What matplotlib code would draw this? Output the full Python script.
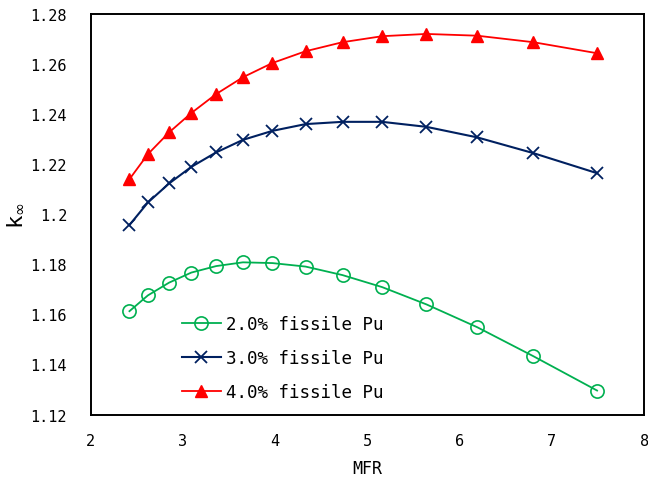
import matplotlib.pyplot as plt

plt.rcParams['font.family'] = ['DejaVu Sans Mono', 'DejaVu Sans']
plt.rcParams['mathtext.fontset'] = 'dejavusans'

# moderator-to-fuel ratio and k-infinity for each fissile Pu content
mfr = [2.42, 2.62, 2.85, 3.09, 3.36, 3.65, 3.97, 4.33, 4.73, 5.16, 5.64, 6.19, 6.80, 7.49]
k_2pct = [1.1613, 1.1676, 1.1727, 1.1767, 1.1793, 1.1808, 1.1805, 1.1791, 1.1757,
          1.1709, 1.1640, 1.1549, 1.1433, 1.1296]
k_3pct = [1.1957, 1.2047, 1.2123, 1.2189, 1.2247, 1.2297, 1.2333, 1.2360, 1.2369,
          1.2369, 1.2349, 1.2307, 1.2244, 1.2164]
k_4pct = [1.2140, 1.2240, 1.2327, 1.2404, 1.2480, 1.2547, 1.2604, 1.2651, 1.2687,
          1.2711, 1.2720, 1.2713, 1.2687, 1.2643]

xticks = [2, 3, 4, 5, 6, 7, 8]
yticks = [1.12, 1.14, 1.16, 1.18, 1.20, 1.22, 1.24, 1.26, 1.28]
ytick_labels = ['1.12', '1.14', '1.16', '1.18', '1.2', '1.22', '1.24', '1.26', '1.28']

fig = plt.figure(figsize=(6.48, 4.81), dpi=100)
ax = fig.add_axes([0.140, 0.136, 0.854, 0.833])

ax.plot(mfr, k_2pct, color='#00B050', lw=1.3, marker='o', ms=9.5,
        mfc='none', mec='#00B050', mew=1.2, label='2.0% fissile Pu')
ax.plot(mfr, k_3pct, color='#002060', lw=1.5, marker='x', ms=9,
        mew=1.3, label='3.0% fissile Pu')
ax.plot(mfr, k_4pct, color='#FF0000', lw=1.3, marker='^', ms=9,
        label='4.0% fissile Pu')

ax.set_xlim(2, 8)
ax.set_ylim(1.12, 1.28)
ax.set_xticks(xticks)
ax.set_xticklabels([str(t) for t in xticks])
ax.set_yticks(yticks)
ax.set_yticklabels(ytick_labels)
ax.tick_params(length=0, labelsize=11)
ax.tick_params(axis='x', pad=13)
ax.tick_params(axis='y', pad=17)
for s in ax.spines.values():
    s.set_linewidth(1.4)

ax.set_xlabel('MFR', fontsize=12, labelpad=8)
ax.set_ylabel(r'k$_\infty$', fontsize=16, labelpad=4)

ax.legend(loc='upper left', bbox_to_anchor=(0.165, 0.2475), frameon=False,
          fontsize=12.6, handlelength=2.2, handletextpad=0.3,
          labelspacing=0.9, borderpad=0, borderaxespad=0)

fig.savefig('out.png', dpi=100)
